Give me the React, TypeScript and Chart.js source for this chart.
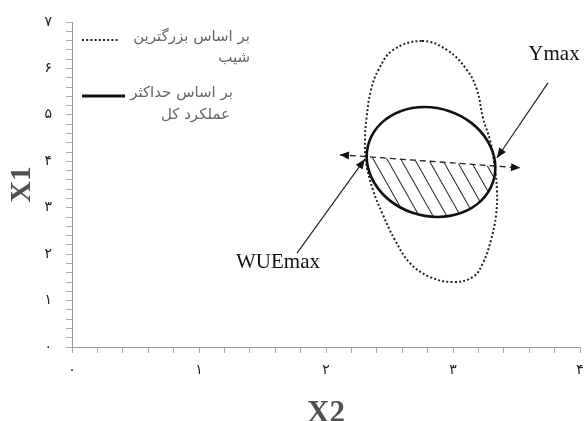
import React, { useEffect, useRef } from 'react';
import { Chart, registerables } from 'chart.js';

Chart.register(...registerables);

// ---------- data ----------
const X_TICK_LABELS = ['۰', '۱', '۲', '۳', '۴'];
const Y_TICK_LABELS = ['۰', '۱', '۲', '۳', '۴', '۵', '۶', '۷'];
const X_TITLE = 'X2';
const Y_TITLE = 'X1';

// dotted outline: based on the largest slope (بر اساس بزرگترین شیب)
const slopeX = [2.756, 2.953, 3.110, 3.189, 3.236, 3.291, 3.323, 3.346, 3.339, 3.299, 3.236, 3.157, 3.000, 2.819, 2.661, 2.543, 2.449, 2.370, 2.315, 2.307, 2.319, 2.354, 2.413, 2.528];
const slopeY = [6.591, 6.397, 5.966, 5.535, 4.932, 4.458, 3.985, 3.381, 2.843, 2.305, 1.809, 1.508, 1.400, 1.508, 1.809, 2.305, 2.843, 3.381, 3.985, 4.458, 4.932, 5.535, 5.966, 6.397];

// solid outline: based on maximum total yield (بر اساس حداکثر عملکرد کل)
const yieldX = [2.776, 2.972, 3.147, 3.272, 3.331, 3.312, 3.220, 3.067, 2.878, 2.681, 2.506, 2.381, 2.323, 2.342, 2.435, 2.587];
const yieldY = [5.169, 5.079, 4.822, 4.437, 3.985, 3.532, 3.147, 2.890, 2.800, 2.890, 3.147, 3.532, 3.985, 4.437, 4.822, 5.079];

// hatched region (below the dashed line, inside the solid outline)
const hatchX = [2.325, 3.329, 3.312, 3.220, 3.067, 2.878, 2.681, 2.506, 2.381, 2.323, 2.325];
const hatchY = [4.092, 3.894, 3.532, 3.147, 2.890, 2.800, 2.890, 3.147, 3.532, 3.985, 4.092];

// dashed double arrow
const dashX = [2.110, 3.528];
const dashY = [4.14, 3.86];
// arrows pointing to WUEmax and Ymax
const wueArrowX = [1.772, 2.307];
const wueArrowY = [2.02, 4.05];
const ymaxArrowX = [3.748, 3.346];
const ymaxArrowY = [5.69, 4.07];

// annotation labels
const noteText = ['WUEmax', 'Ymax'];
const noteX = [1.622, 3.795];
const noteY = [1.81, 6.31];

// legend
const legendSlopeText = ['بر اساس بزرگترین', 'شیب'];
const legendYieldText = ['بر اساس حداکثر', 'عملکرد کل'];

// ---------- helpers ----------
const toPoints = (xs: number[], ys: number[]) => xs.map((x, i) => ({ x, y: ys[i] }));

// closed loop: wrap neighbours so tension is smooth at the joint; hidden segments at both ends
const toLoop = (xs: number[], ys: number[]) => {
  const pts = toPoints(xs, ys);
  const n = pts.length;
  return [pts[n - 1], ...pts, pts[0], pts[1]];
};

const overlayPlugin = {
  id: 'overlay',
  afterDatasetsDraw(chart: any) {
    const { ctx, chartArea, scales } = chart;
    const xs = scales.x;
    const ys = scales.y;
    ctx.save();

    // arrowheads
    const head = (from: any, to: any, len: number, half: number) => {
      const ang = Math.atan2(to.y - from.y, to.x - from.x);
      ctx.save();
      ctx.translate(to.x, to.y);
      ctx.rotate(ang);
      ctx.beginPath();
      ctx.moveTo(0, 0);
      ctx.lineTo(-len, -half);
      ctx.lineTo(-len, half);
      ctx.closePath();
      ctx.fillStyle = '#111';
      ctx.fill();
      ctx.restore();
    };
    chart.data.datasets.forEach((ds: any, i: number) => {
      if (!ds.arrow) return;
      const pts = chart.getDatasetMeta(i).data;
      const n = pts.length;
      head(pts[n - 2], pts[n - 1], ds.arrowLen, ds.arrowHalf);
      if (ds.arrow === 'both') head(pts[1], pts[0], ds.arrowLen, ds.arrowHalf);
    });

    // annotation labels
    ctx.fillStyle = '#111';
    ctx.font = '21px "Liberation Serif", "Times New Roman", serif';
    ctx.textAlign = 'center';
    ctx.textBaseline = 'middle';
    noteText.forEach((t, i) => {
      ctx.fillText(t, xs.getPixelForValue(noteX[i]), ys.getPixelForValue(noteY[i]));
    });

    // legend
    const L = chartArea.left;
    const T = chartArea.top;
    ctx.strokeStyle = '#222';
    ctx.lineWidth = 2;
    ctx.setLineDash([2, 2.2]);
    ctx.beginPath();
    ctx.moveTo(L + 10, T + 18);
    ctx.lineTo(L + 47, T + 18);
    ctx.stroke();
    ctx.setLineDash([]);
    ctx.lineWidth = 3;
    ctx.strokeStyle = '#111';
    ctx.beginPath();
    ctx.moveTo(L + 10, T + 74);
    ctx.lineTo(L + 53, T + 74);
    ctx.stroke();

    ctx.fillStyle = '#666';
    ctx.font = '15px "DejaVu Sans", sans-serif';
    ctx.textAlign = 'right';
    ctx.textBaseline = 'middle';
    ctx.fillText(legendSlopeText[0], L + 178, T + 15);
    ctx.fillText(legendSlopeText[1], L + 178, T + 36);
    ctx.fillText(legendYieldText[0], L + 161, T + 71);
    ctx.fillText(legendYieldText[1], L + 158, T + 93);

    ctx.restore();
  },
};

export default function App() {
  const canvasRef = useRef<HTMLCanvasElement | null>(null);

  useEffect(() => {
    const canvas = canvasRef.current;
    if (!canvas) return;
    const c2d = canvas.getContext('2d') as CanvasRenderingContext2D;

    // hatch pattern
    const tile = document.createElement('canvas');
    tile.width = 12;
    tile.height = 12;
    const tctx = tile.getContext('2d') as CanvasRenderingContext2D;
    tctx.fillStyle = '#222';
    tctx.fillRect(6, 0, 1, 12);
    const pattern = c2d.createPattern(tile, 'repeat') as CanvasPattern;
    try {
      pattern.setTransform(new DOMMatrix().rotate(-29.5));
    } catch (e) {}

    const slopeLoop = toLoop(slopeX, slopeY);
    const yieldLoop = toLoop(yieldX, yieldY);
    const hideEnds = (n: number) => (ctx: any) =>
      ctx.p0DataIndex === 0 || ctx.p0DataIndex === n + 1 ? 'rgba(0,0,0,0)' : undefined;

    const tickCb = (labels: string[]) => (v: any) => {
      const r = Math.round(Number(v));
      return Math.abs(Number(v) - r) < 1e-6 ? labels[r] ?? '' : '';
    };

    const chart = new Chart(canvas, {
      type: 'scatter',
      data: {
        datasets: [
          {
            label: 'yield',
            data: yieldLoop,
            showLine: true,
            borderColor: '#111',
            borderWidth: 2.6,
            pointRadius: 0,
            tension: 0.4,
            fill: false,
            segment: { borderColor: hideEnds(yieldX.length) },
          } as any,
          {
            label: 'slope',
            data: slopeLoop,
            showLine: true,
            borderColor: '#222',
            borderWidth: 2,
            borderDash: [2, 2.2],
            pointRadius: 0,
            tension: 0.4,
            fill: false,
            segment: { borderColor: hideEnds(slopeX.length) },
          } as any,
          {
            label: 'dash',
            data: toPoints(dashX, dashY),
            showLine: true,
            borderColor: '#222',
            borderWidth: 1.3,
            borderDash: [6, 4],
            pointRadius: 0,
            arrow: 'both',
            arrowLen: 9,
            arrowHalf: 4,
          } as any,
          {
            label: 'wue',
            data: toPoints(wueArrowX, wueArrowY),
            showLine: true,
            borderColor: '#222',
            borderWidth: 1.2,
            pointRadius: 0,
            arrow: 'end',
            arrowLen: 10,
            arrowHalf: 4,
          } as any,
          {
            label: 'ymax',
            data: toPoints(ymaxArrowX, ymaxArrowY),
            showLine: true,
            borderColor: '#222',
            borderWidth: 1.2,
            pointRadius: 0,
            arrow: 'end',
            arrowLen: 10,
            arrowHalf: 4,
          } as any,
          {
            label: 'hatch',
            data: toPoints(hatchX, hatchY),
            showLine: true,
            borderWidth: 0,
            borderColor: 'rgba(0,0,0,0)',
            backgroundColor: pattern,
            pointRadius: 0,
            tension: 0,
            fill: 'shape',
          } as any,
        ],
      },
      options: {
        animation: false,
        responsive: true,
        maintainAspectRatio: false,
        layout: { padding: { top: 22, right: 4, left: 0, bottom: 0 } },
        plugins: { legend: { display: false }, tooltip: { enabled: false } },
        scales: {
          x: {
            type: 'linear',
            min: 0,
            max: 4,
            afterFit: (s: any) => {
              s.height = 74;
              s.paddingLeft = 0;
              s.paddingRight = 0;
            },
            border: { color: '#9a9a9a', width: 1 },
            grid: { drawOnChartArea: false, drawTicks: true, tickLength: 6, color: '#aaa' },
            ticks: {
              stepSize: 0.2,
              autoSkip: false,
              maxRotation: 0,
              padding: 9,
              color: '#222',
              font: { family: '"DejaVu Sans", sans-serif', size: 14 },
              callback: tickCb(X_TICK_LABELS),
            },
            title: {
              display: true,
              text: X_TITLE,
              color: '#505050',
              font: { family: '"Liberation Serif", "Times New Roman", serif', size: 31, weight: 'bold', lineHeight: 1 },
              padding: { top: 0, bottom: -8 },
            },
          },
          y: {
            type: 'linear',
            min: 0,
            max: 7,
            afterFit: (s: any) => {
              s.width = 72;
              s.paddingTop = 0;
              s.paddingBottom = 0;
            },
            border: { color: '#9a9a9a', width: 1 },
            grid: { drawOnChartArea: false, drawTicks: true, tickLength: 6, color: '#aaa' },
            ticks: {
              stepSize: 0.2,
              autoSkip: false,
              padding: 14,
              color: '#222',
              font: { family: '"DejaVu Sans", sans-serif', size: 14 },
              callback: tickCb(Y_TICK_LABELS),
            },
            title: {
              display: true,
              text: Y_TITLE,
              color: '#505050',
              font: { family: '"Liberation Serif", "Times New Roman", serif', size: 30, weight: 'bold', lineHeight: 1 },
              padding: { top: 7, bottom: 0 },
            },
          },
        },
      } as any,
      plugins: [overlayPlugin],
    });

    return () => chart.destroy();
  }, []);

  return (
    <div style={{ position: 'fixed', left: 0, top: 0, width: 584, height: 421, background: '#fff' }}>
      <canvas ref={canvasRef} />
    </div>
  );
}
